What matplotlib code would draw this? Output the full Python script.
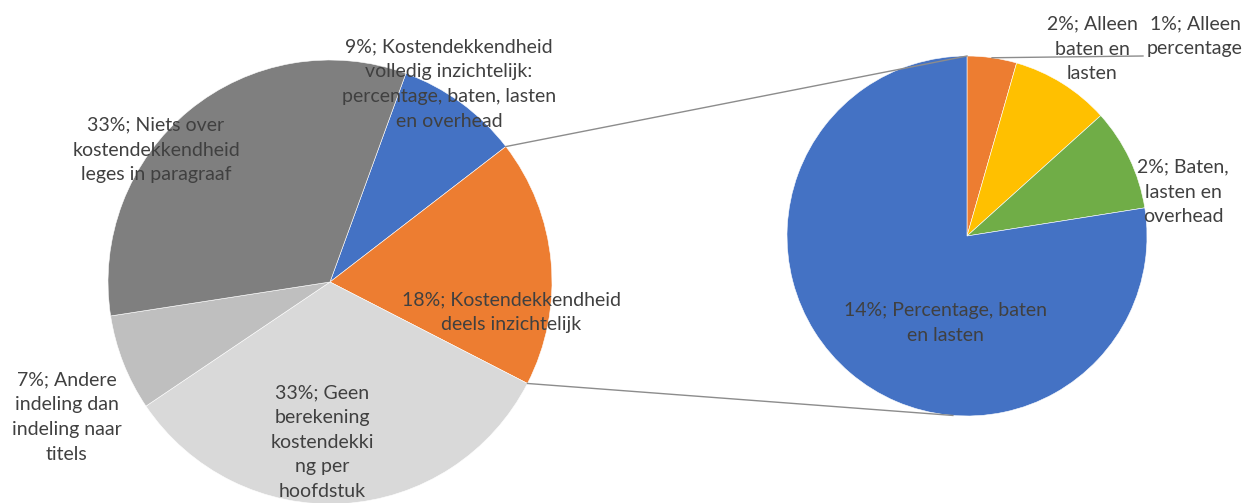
import numpy as np
import matplotlib.pyplot as plt

# Main pie (percent of total)
main_labels = ['Kostendekkendheid\nvolledig inzichtelijk:\npercentage, baten, lasten\nen overhead',
               'Kostendekkendheid\ndeels inzichtelijk',
               'Geen\nberekening\nkostendekki\nng per\nhoofdstuk',
               'Andere\nindeling dan\nindeling naar\ntitels',
               'Niets over\nkostendekkendheid\nleges in paragraaf']
main_values = [9, 18, 33, 7, 33]
main_colors = ['#4472C4', '#ED7D31', '#D9D9D9', '#BFBFBF', '#7F7F7F']

# Breakdown of the 18% slice (percent of total)
sub_labels = ['Alleen\npercentage', 'Alleen\nbaten en\nlasten',
              'Baten,\nlasten en\noverhead', 'Percentage, baten\nen lasten']
sub_values = [0.8, 1.6, 1.65, 13.95]
sub_colors = ['#ED7D31', '#FFC000', '#70AD47', '#4472C4']

text_color = '#404040'
plt.rcParams['font.family'] = ['Lato', 'DejaVu Sans']

W, H = 1248, 503
fig = plt.figure(figsize=(W / 100, H / 100), dpi=100)
ax = fig.add_axes([0, 0, 1, 1])

# geometry (pixel space, y up)
c1, r1 = (330, H - 282), 222
c2, r2 = (967, H - 236), 180
start1 = 20  # degrees clockwise from 12 o'clock

ax.pie(main_values, colors=main_colors, center=c1, radius=r1,
       startangle=90 - start1, counterclock=False,
       wedgeprops=dict(edgecolor='white', linewidth=0.4))
ax.pie(sub_values, colors=sub_colors, center=c2, radius=r2,
       startangle=90, counterclock=False,
       wedgeprops=dict(edgecolor='white', linewidth=0.4))


def on_circle(c, r, deg):
    a = np.radians(deg)
    return c[0] + r * np.sin(a), c[1] + r * np.cos(a)


# connector lines from the split slice to the second pie
cum = np.cumsum([0] + main_values) / sum(main_values) * 360 + start1
p_top = on_circle(c1, r1, cum[1])
p_bot = on_circle(c1, r1, cum[2])
q_top = on_circle(c2, r2, 0)
q_bot = on_circle(c2, r2, 184.5)
ax.plot([p_top[0], q_top[0]], [p_top[1], q_top[1]], color='#8c8c8c', lw=1)
ax.plot([p_bot[0], q_bot[0]], [p_bot[1], q_bot[1]], color='#8c8c8c', lw=1)

# leader line for the smallest slice
sub_cum = np.cumsum([0] + sub_values) / sum(sub_values) * 360
p_lead = on_circle(c2, r2, (sub_cum[0] + sub_cum[1]) / 2)
ax.plot([p_lead[0], 1143], [p_lead[1], H - 56], color='#8c8c8c', lw=1)

fs = 14
ls = 1.55
main_pos = [(449, 84), (511, 312), (322, 442), (67, 417), (156, 150)]
for lab, v, (x, y) in zip(main_labels, main_values, main_pos):
    ax.text(x, H - y, f'{v}%; {lab}', ha='center', va='center', fontsize=fs,
            color=text_color, linespacing=ls, multialignment='center')

sub_pos = [(1195, 36), (1092, 49), (1183, 192), (945, 323)]
for lab, v, (x, y) in zip(sub_labels, sub_values, sub_pos):
    ax.text(x, H - y, f'{round(v)}%; {lab}', ha='center', va='center', fontsize=fs,
            color=text_color, linespacing=ls, multialignment='center')

ax.set_xlim(0, W)
ax.set_ylim(0, H)
ax.set_aspect('equal')
ax.axis('off')

fig.savefig('out.png', dpi=100)
